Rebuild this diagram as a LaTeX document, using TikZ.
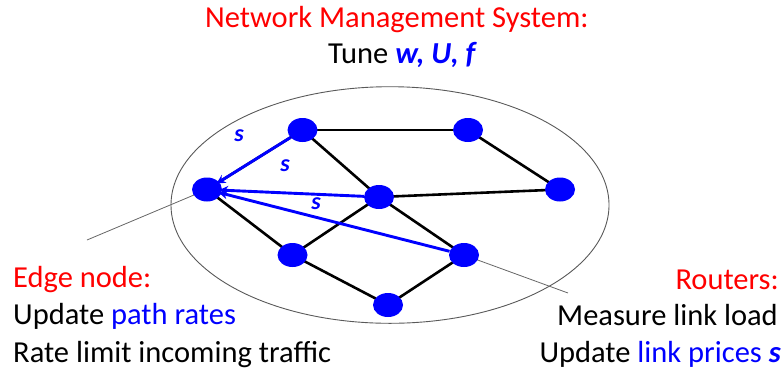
\documentclass[tikz,border=0pt]{standalone}
\usepackage{fontspec}
\setmainfont{Carlito}
\usetikzlibrary{shapes.geometric,arrows.meta,backgrounds}
\definecolor{nblue}{RGB}{0,0,255}
\definecolor{nred}{RGB}{255,0,0}
\begin{document}
\begin{tikzpicture}[x=1pt,y=-1pt,
  vert/.style={ellipse,fill=nblue,inner sep=0pt,minimum width=30pt,minimum height=24pt},
  link/.style={line width=2.6pt,black},
  price/.style={line width=2.9pt,nblue,-{Stealth[length=9pt,width=9pt]},shorten >=-3pt},
  plab/.style={text=nblue,font=\fontsize{24}{24}\selectfont\bfseries\itshape,inner sep=0pt},
  pointer/.style={line width=0.8pt,gray!80!black},
  txt/.style={inner sep=0pt,font=\fontsize{30.5}{30.5}\selectfont}]
\useasboundingbox (0,0) rectangle (783,373);
% vertices
\node[vert] (A) at (207,189.5) {};
\node[vert] (B) at (302.5,130) {};
\node[vert] (C) at (468,130) {};
\node[vert] (D) at (560,189.5) {};
\node[vert] (E) at (379,197) {};
\node[vert] (F) at (292.5,255) {};
\node[vert] (G) at (464,255) {};
\node[vert] (H) at (388,305) {};
\coordinate (pa) at (87,240);
\coordinate (pg) at (568,293);
\begin{scope}[on background layer]
\draw[line width=0.9pt,gray!70!black] (390,205) ellipse [x radius=219, y radius=118.3];
\draw[pointer] (A.center) -- (pa);
\draw[pointer] (G.center) -- (pg);
\draw[link] (B.center) -- (C.center);
\draw[link] (C.center) -- (D.center);
\draw[link] (E.center) -- (D.center);
\draw[link] (B.center) -- (E.center);
\draw[link] (E.center) -- (G.center);
\draw[link] (A.center) -- (B.center);
\draw[link] (A.center) -- (F.center);
\draw[link] (F.center) -- (E.center);
\draw[link] (F.center) -- (H.center);
\draw[link] (H.center) -- (G.center);
\end{scope}
% price arrows
\draw[price] (B) -- (A);
\draw[price] (E) -- (A);
\draw[price] (G) -- (A);
\node[plab] (s1) at (239,136) {s};
\node[plab] (s2) at (285,166) {s};
\node[plab] (s3) at (316,204) {s};
% texts
\node[txt,anchor=base west,text=nred] (title) at (205,27) {Network Management System:};
\node[txt,anchor=base west] (tune) at (328,63) {Tune {\color{nblue}\bfseries\itshape w, U, f}};
\node[txt,anchor=base west,text=nred] (edge) at (13,287) {Edge node:};
\node[txt,anchor=base west] (upd) at (13,324.5) {Update {\color{nblue}path rates}};
\node[txt,anchor=base west] (rate) at (13,362) {Rate limit incoming traffic};
\node[txt,anchor=base east,text=nred] (rout) at (779,289) {Routers:};
\node[txt,anchor=base east] (meas) at (778,325) {Measure link load};
\node[txt,anchor=base east] (updl) at (781,362) {Update {\color{nblue}link prices {\bfseries\itshape s}}};
\end{tikzpicture}
\end{document}
